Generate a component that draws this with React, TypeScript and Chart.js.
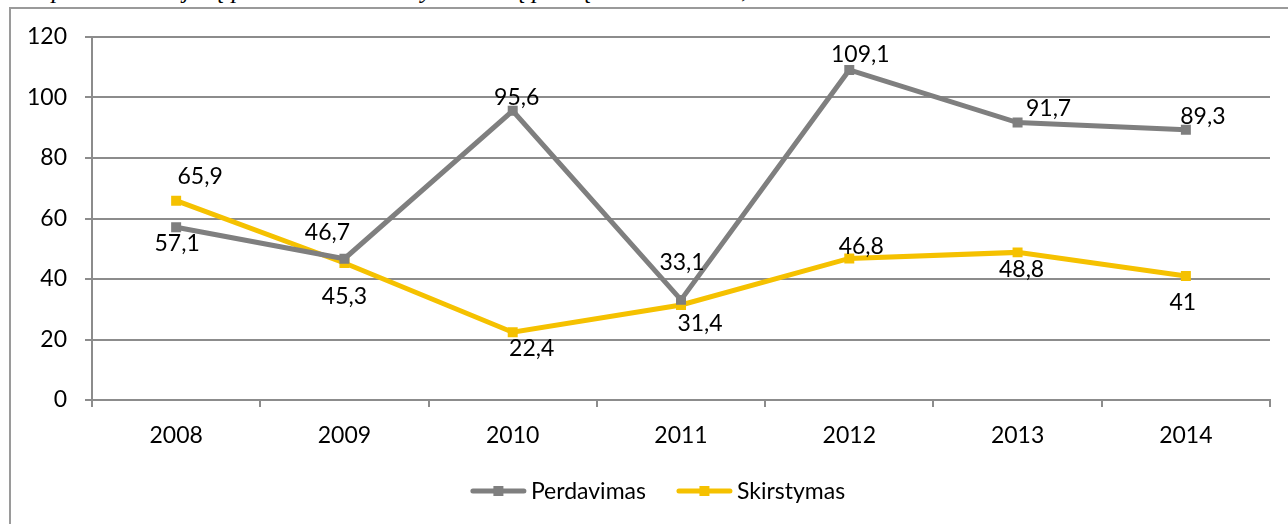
import React, { useEffect, useRef } from "react";
import { Chart, registerables } from "chart.js";

Chart.register(...registerables);

const categories = ["2008", "2009", "2010", "2011", "2012", "2013", "2014"];
const perdavimas = [57.1, 46.7, 95.6, 33.1, 109.1, 91.7, 89.3];
const skirstymas = [65.9, 45.3, 22.4, 31.4, 46.8, 48.8, 41];
const seriesNames = ["Perdavimas", "Skirstymas"];
const yMin = 0;
const yMax = 120;
const yStep = 20;
const titleText = "1 pav. Investicijos į perdavimo ir skirstymo tinklų plėtrą 2008–2014 m., mln. Lt";

// label placement (style): offset of each value label from its point
const perdLabelOffsets = [[1, 15], [-17, -27], [4, -14], [1, -38], [11, -16], [31, -15], [17, -14]];
const skirLabelOffsets = [[24, -25], [0, 33], [19, 15], [19, 18], [12, -13], [4, 16], [-3, 26]];

const GRAY = "#7f7f7f";
const GOLD = "#f5c100";
const GRID = "#8c8c8c";
const FONT = "Lato";
const FS = 23;

const fmt = (v: number) => String(v).replace(".", ",");

const valueLabels = {
  id: "valueLabels",
  afterDatasetsDraw(chart: any) {
    const ctx = chart.ctx;
    const offsets = [perdLabelOffsets, skirLabelOffsets];
    ctx.save();
    ctx.font = `${FS}px ${FONT}`;
    ctx.fillStyle = "#000";
    ctx.textAlign = "center";
    ctx.textBaseline = "middle";
    chart.data.datasets.forEach((ds: any, i: number) => {
      const meta = chart.getDatasetMeta(i);
      meta.data.forEach((pt: any, j: number) => {
        const [dx, dy] = offsets[i][j];
        ctx.fillText(fmt(ds.data[j]), pt.x + dx, pt.y + dy + 1);
      });
    });
    ctx.restore();
  },
};

const customLegend = {
  id: "customLegend",
  afterDraw(chart: any) {
    const ctx = chart.ctx;
    const y = 491;
    const lineLen = 55;
    const gap = 5;
    const between = 31;
    const centerX = 658;
    ctx.save();
    ctx.font = `${FS}px ${FONT}`;
    const ds = chart.data.datasets;
    const widths = ds.map((d: any) => ctx.measureText(d.label).width);
    let total = 0;
    widths.forEach((w: number, i: number) => {
      total += lineLen + gap + w + (i < widths.length - 1 ? between : 0);
    });
    let x = centerX - total / 2;
    ds.forEach((d: any, i: number) => {
      ctx.strokeStyle = d.borderColor;
      ctx.lineWidth = 5;
      ctx.lineCap = "round";
      ctx.beginPath();
      ctx.moveTo(x + 2, y);
      ctx.lineTo(x + lineLen - 2, y);
      ctx.stroke();
      ctx.fillStyle = d.borderColor;
      ctx.fillRect(x + lineLen / 2 - 5, y - 5, 10, 10);
      ctx.fillStyle = "#000";
      ctx.textAlign = "left";
      ctx.textBaseline = "middle";
      ctx.fillText(d.label, x + lineLen + gap, y + 1);
      x += lineLen + gap + widths[i] + between;
    });
    ctx.restore();
  },
};

export default function App() {
  const ref = useRef<HTMLCanvasElement | null>(null);

  useEffect(() => {
    if (!ref.current) return;
    const chart = new Chart(ref.current, {
      type: "line",
      data: {
        labels: categories,
        datasets: [
          {
            label: seriesNames[0],
            data: perdavimas,
            borderColor: GRAY,
            backgroundColor: GRAY,
            borderWidth: 5,
            pointStyle: "rect",
            pointRadius: 6,
            pointBorderWidth: 1.5,
            tension: 0,
          },
          {
            label: seriesNames[1],
            data: skirstymas,
            borderColor: GOLD,
            backgroundColor: GOLD,
            borderWidth: 5,
            pointStyle: "rect",
            pointRadius: 6,
            pointBorderWidth: 1.5,
            tension: 0,
          },
        ],
      },
      options: {
        responsive: false,
        animation: false,
        layout: { padding: { left: 0, top: 37, right: 18, bottom: 0 } },
        plugins: {
          legend: { display: false },
          tooltip: { enabled: false },
          title: { display: false },
        },
        scales: {
          x: {
            offset: true,
            grid: {
              offset: true,
              drawOnChartArea: false,
              drawTicks: true,
              tickLength: 7,
              color: GRID,
              lineWidth: 2,
            },
            border: { display: true, color: GRID, width: 2 },
            ticks: {
              color: "#000",
              font: { family: FONT, size: FS },
              padding: 15,
              maxRotation: 0,
            },
            afterFit: (scale: any) => {
              scale.height = 124;
            },
          },
          y: {
            min: yMin,
            max: yMax,
            ticks: {
              stepSize: yStep,
              color: "#000",
              font: { family: FONT, size: FS },
              padding: 18,
            },
            grid: {
              color: GRID,
              lineWidth: 2,
              drawTicks: true,
              tickLength: 7,
            },
            border: { display: true, color: GRID, width: 2 },
            afterFit: (scale: any) => {
              scale.width = 92;
            },
          },
        },
      },
      plugins: [valueLabels, customLegend],
    });
    return () => chart.destroy();
  }, []);

  return (
    <div style={{ position: "fixed", left: 0, top: 0, width: 1288, height: 524, overflow: "hidden", background: "#fff" }}>
      <div
        style={{
          position: "absolute",
          left: 33,
          top: -23,
          fontFamily: "'Liberation Serif', 'Times New Roman', serif",
          fontStyle: "italic",
          fontSize: 25,
          lineHeight: "25px",
          whiteSpace: "nowrap",
          color: "#000",
        }}
      >
        {titleText}
      </div>
      <div
        style={{
          position: "absolute",
          left: 9,
          top: 7,
          width: 1400,
          height: 600,
          borderLeft: "2px solid #9a9a9a",
          borderTop: "2px solid #9a9a9a",
        }}
      />
      <canvas
        ref={ref}
        width={1288}
        height={524}
        style={{ position: "absolute", left: 0, top: 0, width: 1288, height: 524 }}
      />
    </div>
  );
}
